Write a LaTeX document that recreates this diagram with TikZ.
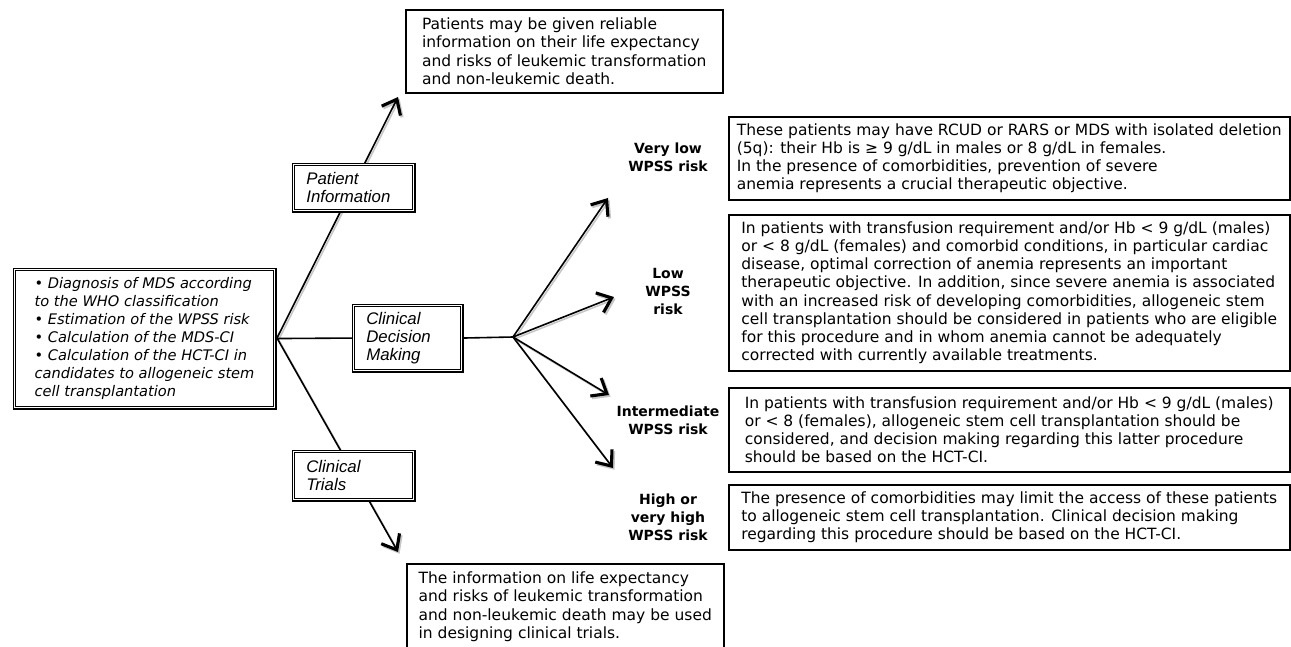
\documentclass[tikz,border=0pt]{standalone}
\usepackage{fontspec}
\setmainfont{DejaVu Sans}
\newfontfamily\arialfont{Liberation Sans}
\usetikzlibrary{arrows.meta}
\pgfdeclarelayer{bg}
\pgfsetlayers{bg,main}
\begin{document}
\begin{tikzpicture}[x=1pt,y=-1pt,
  txtbox/.style={draw, line width=1.5pt, fill=white, align=left, anchor=north west,
    inner sep=0pt, font=\fontsize{15.5}{18.2}\selectfont},
  dblbox/.style={draw, double, line width=1.1pt, double distance=1.4pt, fill=white,
    anchor=north west, inner ysep=0pt},
  lblbox/.style={dblbox, align=left, inner xsep=13pt,
    font=\arialfont\itshape\fontsize{16.8}{18}\selectfont},
  risklbl/.style={align=center, font=\bfseries\fontsize{14}{18}\selectfont},
  conn/.style={draw, line width=1.6pt},
  arr/.style={conn, -{Straight Barb[length=13pt,width=21pt,line width=3.1pt]}},
  shadowarr/.style={arr, draw=black!22, transform canvas={shift={(1.6pt,-1.8pt)}}}
]
\useasboundingbox (0,0) rectangle (1291,646);

% main left box
\node[dblbox, align=left, minimum width=260.4pt, minimum height=138.4pt,
  font=\itshape\fontsize{14.6}{18.1}\selectfont] (diag) at (13.8,268.8)
  {• Diagnosis of MDS according\\to the WHO classification\\• Estimation of the WPSS risk\\• Calculation of the MDS-CI\\• Calculation of the HCT-CI in\\candidates to allogeneic stem\\cell transplantation};

% italic label boxes
\node[lblbox, text width=94.4pt, minimum height=46.4pt] (pinfo) at (292.8,163.8) {Patient\\Information};
\node[lblbox, text width=82.4pt, minimum height=65.4pt] (cdm) at (352.8,304.8) {Clinical\\Decision\\Making};
\node[lblbox, text width=94.4pt, minimum height=48.4pt] (trials) at (292.8,450.8) {Clinical\\Trials};

% top and bottom text boxes
\node[txtbox, minimum width=317pt, minimum height=83pt] (topbox) at (405,9)
  {Patients may be given reliable\\information on their life expectancy\\and risks of leukemic transformation\\and non-leukemic death.};
\node[txtbox, minimum width=317pt, minimum height=86pt] (botbox) at (406,563)
  {The information on life expectancy\\and risks of leukemic transformation\\and non-leukemic death may be used\\in designing clinical trials.};

% risk labels
\node[risklbl] (lvl) at (668,157) {Very low\\WPSS risk};
\node[risklbl] (llow) at (668,291) {Low\\WPSS\\risk};
\node[risklbl] (lint) at (668,420) {Intermediate\\WPSS risk};
\node[risklbl] (lhigh) at (668,517) {High or\\very high\\WPSS risk};

% right text boxes
\node[txtbox, minimum width=561pt, minimum height=83pt] (r1) at (728,116)
  {These patients may have RCUD or RARS or MDS with isolated deletion\\(5q): their Hb is ≥ 9 g/dL in males or 8 g/dL in females.\\In the presence of comorbidities, prevention of severe\\anemia represents a crucial therapeutic objective.};
\node[txtbox, minimum width=561pt, minimum height=156pt] (r2) at (728,214)
  {In patients with transfusion requirement and/or Hb < 9 g/dL (males)\\or < 8 g/dL (females) and comorbid conditions, in particular cardiac\\disease, optimal correction of anemia represents an important\\therapeutic objective. In addition, since severe anemia is associated\\with an increased risk of developing comorbidities, allogeneic stem\\cell transplantation should be considered in patients who are eligible\\for this procedure and in whom anemia cannot be adequately\\corrected with currently available treatments.};
\node[txtbox, minimum width=561pt, minimum height=84pt] (r3) at (728,387)
  {In patients with transfusion requirement and/or Hb < 9 g/dL (males)\\or < 8 (females), allogeneic stem cell transplantation should be\\considered, and decision making regarding this latter procedure\\should be based on the HCT-CI.};
\node[txtbox, minimum width=561pt, minimum height=65pt] (r4) at (728,484)
  {The presence of comorbidities may limit the access of these patients\\to allogeneic stem cell transplantation. Clinical decision making\\regarding this procedure should be based on the HCT-CI.};

% hubs and arrow tips
\coordinate (hubA) at (277,338);
\coordinate (hubB) at (513,337);
\coordinate (tPI) at (398,97);
\coordinate (tCT) at (398,552);
\coordinate (t1) at (608,198);
\coordinate (t2) at (614,297);
\coordinate (t3) at (609,395);
\coordinate (t4) at (613,468);

\begin{pgfonlayer}{bg}
  \foreach \a/\b in {hubA/tPI, hubA/tCT, hubB/t1, hubB/t2, hubB/t3, hubB/t4}
    \draw[shadowarr] (\a) -- (\b);
  \draw[arr] (hubA) -- (tPI);
  \draw[arr] (hubA) -- (tCT);
  \draw[conn] (diag.east) -- (cdm.west);
  \draw[conn] (cdm.east) -- (hubB);
  \draw[arr] (hubB) -- (t1);
  \draw[arr] (hubB) -- (t2);
  \draw[arr] (hubB) -- (t3);
  \draw[arr] (hubB) -- (t4);
\end{pgfonlayer}
\end{tikzpicture}
\end{document}
